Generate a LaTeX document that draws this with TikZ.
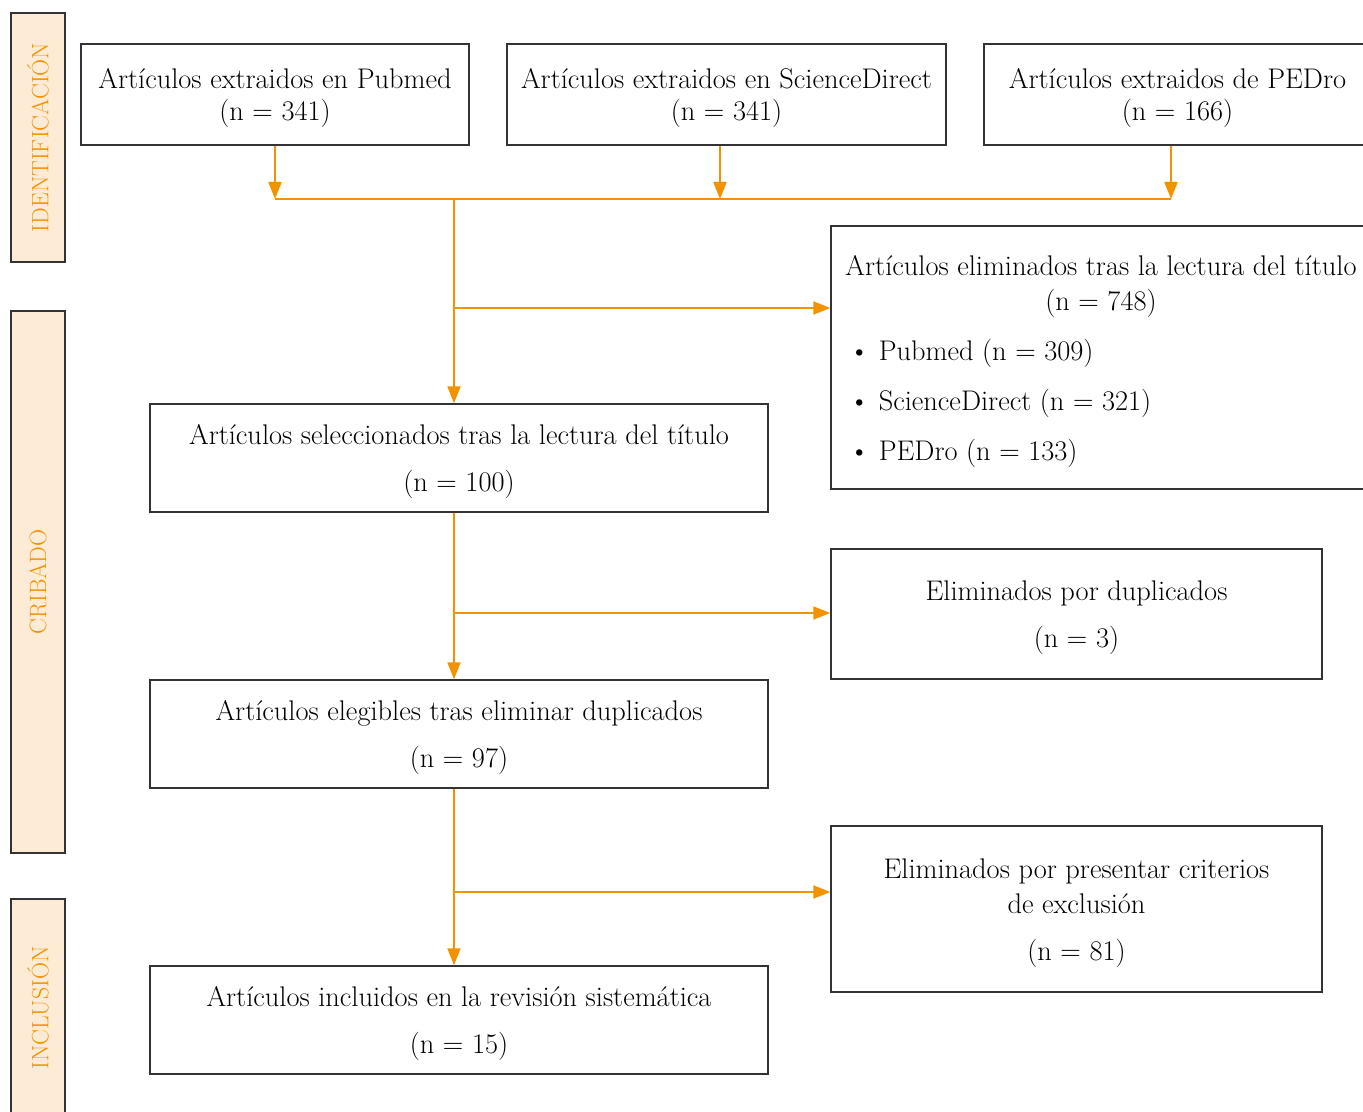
\documentclass[tikz,border=0pt]{standalone}
\usepackage{fontspec}
\usetikzlibrary{arrows.meta}
\definecolor{org}{RGB}{243,146,0}
\definecolor{peach}{RGB}{253,235,213}
\definecolor{edge}{RGB}{51,51,51}
\newcommand\topstrut{\rule{0pt}{20.8pt}}
\begin{document}
\begin{tikzpicture}[x=0.75pt,y=-0.75pt,
  font=\fontsize{21.3}{24}\selectfont,
  box/.style={draw=edge,line width=1.1pt,inner sep=0pt,align=center},
  sz/.style 2 args={minimum width=#1*0.75pt,minimum height=#2*0.75pt},
  sidebar/.style={draw=edge,line width=1.1pt,fill=peach,text=org,rotate=90,inner sep=0pt,
    minimum height=40.5pt,font=\fontsize{17.7}{20}\selectfont},
  flow/.style={draw=org,line width=1.5pt},
  arr/.style={flow,-{Triangle[length=12.75pt,width=9.75pt]}}]
\useasboundingbox (0,0) rectangle (1363,1112);

% side bars
\node[sidebar,minimum width=186.75pt] (idb) at (38,137.5) {IDENTIFICACIÓN};
\node[sidebar,minimum width=406.5pt] (crb) at (38,582) {CRIBADO};
\node[sidebar,minimum width=163.5pt] (inb) at (38,1008) {INCLUSIÓN};

% boxes
\node[box,sz={388}{101}] (pub) at (275,94.5) {\topstrut Artículos extraidos en Pubmed\\(n = 341)};
\node[box,sz={439}{101}] (sd) at (726.5,94.5) {\topstrut Artículos extraidos en ScienceDirect\\(n = 341)};
\node[box,sz={387}{101}] (pe) at (1177.5,94.5) {\topstrut Artículos extraidos de PEDro\\(n = 166)};
\node[box,sz={540}{263}] (elim) at (1101,357.5) {\begin{minipage}{386pt}
\vspace*{6pt}
{\centering Artículos eliminados tras la lectura del título\\[2.25pt](n = 748)\par}
\vspace{13.5pt}
\hspace*{4pt}\textbullet\hspace{7pt}Pubmed (n = 309)\\[13.5pt]
\hspace*{4pt}\textbullet\hspace{7pt}ScienceDirect (n = 321)\\[13.5pt]
\hspace*{4pt}\textbullet\hspace{7pt}PEDro (n = 133)
\end{minipage}};
\node[box,sz={618}{108}] (sel) at (459,458) {\topstrut Artículos seleccionados tras la lectura del título\\[11.25pt](n = 100)};
\node[box,sz={491}{130}] (dup) at (1076.5,614) {\topstrut Eliminados por duplicados\\[11.25pt](n = 3)};
\node[box,sz={618}{108}] (eleg) at (459,734) {\topstrut Artículos elegibles tras eliminar duplicados\\[11.25pt](n = 97)};
\node[box,sz={491}{166}] (crit) at (1076.5,909) {\topstrut Eliminados por presentar criterios\\[2.25pt]de exclusión\\[11.25pt](n = 81)};
\node[box,sz={618}{108}] (inc) at (459,1020) {\topstrut Artículos incluidos en la revisión sistemática\\[11.25pt](n = 15)};

% junction coordinates
\coordinate (j1) at (454,199);
\coordinate (b1) at (454,308);
\coordinate (b2) at (454,613);
\coordinate (b3) at (454,892);
\coordinate (s2) at ([xshift=-4.875pt]sd.south);
\coordinate (s3) at ([xshift=-4.875pt]pe.south);

% connectors
\draw[flow] (pub.south |- j1) -- (s3 |- j1);
\draw[arr] (pub.south) -- (pub.south |- j1);
\draw[arr] (s2) -- (s2 |- j1);
\draw[arr] (s3) -- (s3 |- j1);
\draw[arr] (j1) -- (j1 |- sel.north);
\draw[arr] (b1) -- (b1 -| elim.west);
\draw[arr] (j1 |- sel.south) -- (j1 |- eleg.north);
\draw[arr] (b2) -- (b2 -| dup.west);
\draw[arr] (j1 |- eleg.south) -- (j1 |- inc.north);
\draw[arr] (b3) -- (b3 -| crit.west);
\end{tikzpicture}
\end{document}
